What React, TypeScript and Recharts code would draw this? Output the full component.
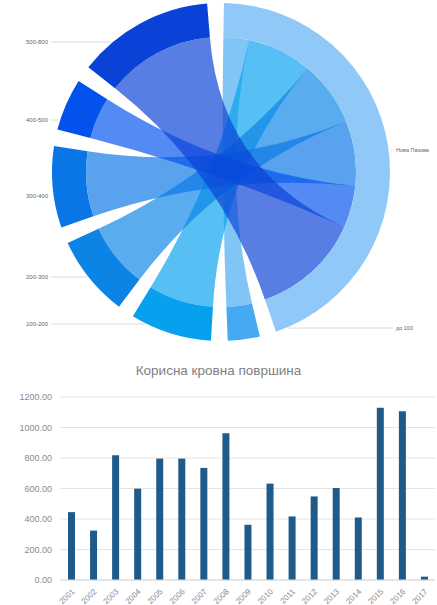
import { PieChart, Pie, Cell, BarChart, Bar, XAxis, YAxis, CartesianGrid, Customized } from 'recharts';

// chord wheel: hub node linked to each of the range nodes
const hubName = 'Нова Пазова';
const linkTargets = ['до 100', '100-200', '200-300', '300-400', '400-500', '500-800'];
const linkValues = [11, 28, 28, 28, 18, 47];

// bar chart
const years = ['2001', '2002', '2003', '2004', '2005', '2006', '2007', '2008', '2009', '2010', '2011', '2012', '2013', '2014', '2015', '2016', '2017'];
const roofArea = [445, 324, 818, 599, 796, 796, 735, 963, 362, 632, 417, 548, 603, 410, 1130, 1107, 22];
const yTicks = [0, 200, 400, 600, 800, 1000, 1200];

const nodeColors = ['#90c8f8', '#45aaf2', '#06a0ee', '#0b84e6', '#0a76e6', '#0352ee', '#0a41d6'];
const labelY = [150, 328, 324, 277, 196, 120, 42];

const CX = 221;
const CY = 172;
const R_OUT = 169;
const R_IN = 135;
const START = 89;
const PAD = 40 / 7;

const hubTotal = linkValues.reduce((a, b) => a + b, 0);
const nodeData = [
  { name: hubName, value: hubTotal },
  ...linkTargets.map((name, i) => ({ name, value: linkValues[i] })),
];
const barData = years.map((year, i) => ({ year, area: roofArea[i] }));

// same sector maths as the Pie (startAngle START, clockwise, paddingAngle PAD)
function layoutNodes(values: number[]) {
  const total = values.reduce((a, b) => a + b, 0);
  const real = 360 - values.length * PAD;
  let a = START;
  return values.map((v, i) => {
    if (i) a -= PAD;
    const start = a;
    a -= (v / total) * real;
    return { start, end: a };
  });
}

const pt = (angle: number, r: number) => {
  const rad = (angle * Math.PI) / 180;
  return `${(CX + r * Math.cos(rad)).toFixed(2)},${(CY - r * Math.sin(rad)).toFixed(2)}`;
};

function Ribbons() {
  const arcs = layoutNodes(nodeData.map((d) => d.value));
  const hub = arcs[0];
  const real = 360 - nodeData.length * PAD;
  const unit = real / (hubTotal * 2);
  let s = hub.start;
  const r = R_IN;
  return (
    <g>
      {linkValues.map((v, i) => {
        const s0 = s;
        const s1 = s - v * unit;
        s = s1;
        const t = arcs[i + 1];
        const d = `M${pt(s0, r)} A${r},${r} 0 0 1 ${pt(s1, r)} Q${CX},${CY} ${pt(t.start, r)} A${r},${r} 0 0 1 ${pt(t.end, r)} Q${CX},${CY} ${pt(s0, r)} Z`;
        return <path key={i} d={d} fill={nodeColors[i + 1]} fillOpacity={0.68} />;
      })}
    </g>
  );
}

function renderNodeLabel(props: any) {
  const { index, name, midAngle } = props;
  const right = Math.cos((midAngle * Math.PI) / 180) > 0;
  const y = labelY[index];
  const dy = y - CY;
  const half = Math.abs(dy) < R_OUT ? Math.sqrt(R_OUT * R_OUT - dy * dy) : 0;
  if (right) {
    const x0 = CX + half + 2;
    return (
      <g key={`l-${index}`}>
        {x0 < 392 && <line x1={x0} y1={y} x2={393} y2={y} stroke="#d0d0d0" strokeWidth={0.8} />}
        <text x={396} y={y} dy={2} fontSize={5.5} fill="#666" textAnchor="start">{name}</text>
      </g>
    );
  }
  const x1 = CX - half - 2;
  return (
    <g key={`l-${index}`}>
      {x1 > 52 && <line x1={51} y1={y} x2={x1} y2={y} stroke="#d0d0d0" strokeWidth={0.8} />}
      <text x={48} y={y} dy={2} fontSize={6} fill="#666" textAnchor="end">{name}</text>
    </g>
  );
}

export default function App() {
  return (
    <div style={{ position: 'absolute', left: 0, top: 0, width: 437, height: 605, background: '#fff', fontFamily: '"Liberation Sans", Arial, sans-serif' }}>
      <PieChart width={437} height={345} margin={{ top: 0, right: 0, bottom: 0, left: 0 }}>
        <Customized component={Ribbons} />
        <Pie
          data={nodeData}
          dataKey="value"
          nameKey="name"
          cx={CX}
          cy={CY}
          innerRadius={R_IN}
          outerRadius={R_OUT}
          startAngle={START}
          endAngle={START - 360}
          paddingAngle={PAD}
          stroke="none"
          label={renderNodeLabel}
          labelLine={false}
          isAnimationActive={false}
        >
          {nodeData.map((d, i) => (
            <Cell key={d.name} fill={nodeColors[i]} />
          ))}
        </Pie>
      </PieChart>
      <div style={{ position: 'absolute', left: 0, top: 363, width: 437, textAlign: 'center', fontSize: 13.5, color: '#808080' }}>
        Корисна кровна површина
      </div>
      <div style={{ position: 'absolute', left: 0, top: 355 }}>
        <BarChart width={437} height={250} data={barData} margin={{ top: 42, right: 2, left: 0, bottom: 0 }}>
          <CartesianGrid vertical={false} stroke="#e4e4e4" />
          <XAxis
            dataKey="year"
            height={25}
            interval={0}
            tickLine={false}
            axisLine={{ stroke: '#d9d9d9' }}
            tick={{ angle: -45, textAnchor: 'end', fontSize: 8, fill: '#8a8a8a' }}
          />
          <YAxis
            domain={[0, 1200]}
            ticks={yTicks}
            width={60}
            axisLine={false}
            tickLine={false}
            tick={{ fontSize: 9, fill: '#8a8a8a' }}
            tickFormatter={(v: number) => v.toFixed(2)}
          />
          <Bar dataKey="area" fill="#1e5b8a" barSize={7} isAnimationActive={false} />
        </BarChart>
      </div>
    </div>
  );
}
